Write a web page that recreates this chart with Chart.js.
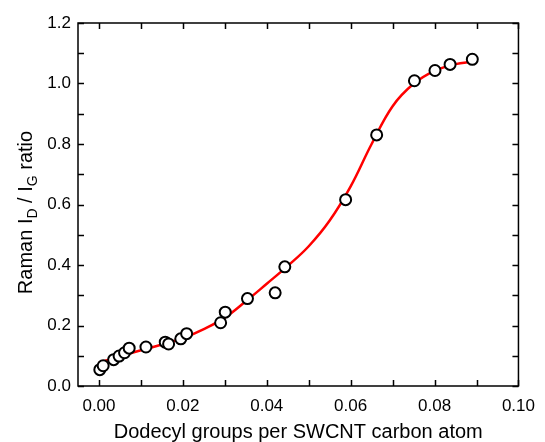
<!DOCTYPE html>
<html>
<head>
<meta charset="utf-8">
<script src="https://cdn.jsdelivr.net/npm/chart.js@4"></script>
<style>
  html, body { margin: 0; padding: 0; background: #fff; }
  #chart { display: block; }
</style>
</head>
<body>
<canvas id="chart" width="545" height="442"></canvas>
<script>
// measured points
const pointX = [0.0002, 0.0010, 0.0035, 0.0048, 0.0061, 0.0072, 0.0112, 0.0158, 0.0166, 0.0195, 0.0209,
  0.0290, 0.0301, 0.0354, 0.0420, 0.0443, 0.0588, 0.0662, 0.0752, 0.0801, 0.0837, 0.0890];
const pointY = [0.054, 0.067, 0.087, 0.099, 0.110, 0.125, 0.129, 0.145, 0.139, 0.156, 0.173,
  0.209, 0.244, 0.289, 0.308, 0.394, 0.616, 0.830, 1.009, 1.043, 1.063, 1.080];

// fitted curve (red)
const curveX = [0.000, 0.005, 0.010, 0.015, 0.020, 0.025, 0.030, 0.035, 0.040, 0.045,
  0.050, 0.055, 0.060, 0.065, 0.070, 0.075, 0.080, 0.085, 0.089];
const curveY = [0.077, 0.098, 0.118, 0.137, 0.158, 0.188, 0.226, 0.280, 0.338, 0.397,
  0.462, 0.547, 0.660, 0.800, 0.925, 0.999, 1.042, 1.064, 1.072];

const xTicks = [0.00, 0.02, 0.04, 0.06, 0.08, 0.10];
const xMinorTicks = [0.01, 0.03, 0.05, 0.07, 0.09];
const yTicks = [0.0, 0.2, 0.4, 0.6, 0.8, 1.0, 1.2];
const yMinorTicks = [0.1, 0.3, 0.5, 0.7, 0.9, 1.1];

const FONT = "'Liberation Sans', Arial, Helvetica, sans-serif";

// frame, inward ticks and axis titles
const framePlugin = {
  id: "frame",
  afterDraw(chart) {
    const ctx = chart.ctx;
    const a = chart.chartArea;
    const xs = chart.scales.x;
    const ys = chart.scales.y;
    const len = 6;

    ctx.save();
    ctx.strokeStyle = "#000";
    ctx.lineWidth = 1.5;

    ctx.beginPath();
    xTicks.concat(xMinorTicks).forEach(function (v) {
      const px = Math.round(xs.getPixelForValue(v)) + 0.5;
      ctx.moveTo(px, a.bottom);
      ctx.lineTo(px, a.bottom - len);
      ctx.moveTo(px, a.top);
      ctx.lineTo(px, a.top + len);
    });
    yTicks.concat(yMinorTicks).forEach(function (v) {
      const py = Math.round(ys.getPixelForValue(v)) + 0.5;
      ctx.moveTo(a.left, py);
      ctx.lineTo(a.left + len, py);
      ctx.moveTo(a.right, py);
      ctx.lineTo(a.right - len, py);
    });
    ctx.stroke();

    ctx.strokeRect(a.left, a.top, a.right - a.left, a.bottom - a.top);

    // x title
    ctx.fillStyle = "#000";
    ctx.font = "20px " + FONT;
    ctx.textAlign = "center";
    ctx.textBaseline = "alphabetic";
    ctx.fillText("Dodecyl groups per SWCNT carbon atom", (a.left + a.right) / 2, 438);

    // y title with subscripts
    const parts = [
      { t: "Raman I", sub: false },
      { t: "D", sub: true },
      { t: " / I", sub: false },
      { t: "G", sub: true },
      { t: " ratio", sub: false },
    ];
    const big = "20px " + FONT;
    const small = "14px " + FONT;
    let total = 0;
    parts.forEach(function (p) {
      ctx.font = p.sub ? small : big;
      p.w = ctx.measureText(p.t).width;
      total += p.w;
    });
    ctx.translate(32, (a.top + a.bottom) / 2 + 8);
    ctx.rotate(-Math.PI / 2);
    ctx.textAlign = "left";
    let x = -total / 2;
    parts.forEach(function (p) {
      ctx.font = p.sub ? small : big;
      ctx.fillText(p.t, x, p.sub ? 5 : 0);
      x += p.w;
    });
    ctx.restore();
  },
};

new Chart(document.getElementById("chart"), {
  type: "scatter",
  data: {
    datasets: [
      {
        label: "data",
        data: pointX.map((x, i) => ({ x: x, y: pointY[i] })),
        showLine: false,
        pointRadius: 5.5,
        pointBorderWidth: 2,
        pointBorderColor: "#000",
        pointBackgroundColor: "#fff",
        order: 0,
      },
      {
        label: "fit",
        data: curveX.map((x, i) => ({ x: x, y: curveY[i] })),
        showLine: true,
        borderColor: "#ff0000",
        borderWidth: 2.5,
        pointRadius: 0,
        tension: 0.4,
        fill: false,
        order: 1,
      },
    ],
  },
  options: {
    responsive: false,
    devicePixelRatio: 1,
    animation: false,
    layout: { padding: { left: 0, right: 17, top: 23, bottom: 0 } },
    plugins: {
      legend: { display: false },
      tooltip: { enabled: false },
    },
    scales: {
      x: {
        type: "linear",
        min: -0.005,
        max: 0.1,
        afterBuildTicks: function (scale) {
          scale.ticks = xTicks.map((v) => ({ value: v }));
        },
        afterFit: function (scale) {
          scale.height = 56;
        },
        grid: { display: false, drawTicks: false },
        border: { display: false },
        ticks: {
          padding: 10,
          color: "#000",
          font: { family: FONT, size: 17 },
          maxRotation: 0,
          callback: (v) => v.toFixed(2),
        },
      },
      y: {
        type: "linear",
        min: 0,
        max: 1.2,
        afterBuildTicks: function (scale) {
          scale.ticks = yTicks.map((v) => ({ value: v }));
        },
        afterFit: function (scale) {
          scale.width = 78;
        },
        grid: { display: false, drawTicks: false },
        border: { display: false },
        ticks: {
          padding: 7,
          color: "#000",
          font: { family: FONT, size: 17 },
          callback: (v) => v.toFixed(1),
        },
      },
    },
  },
  plugins: [framePlugin],
});
</script>
</body>
</html>
